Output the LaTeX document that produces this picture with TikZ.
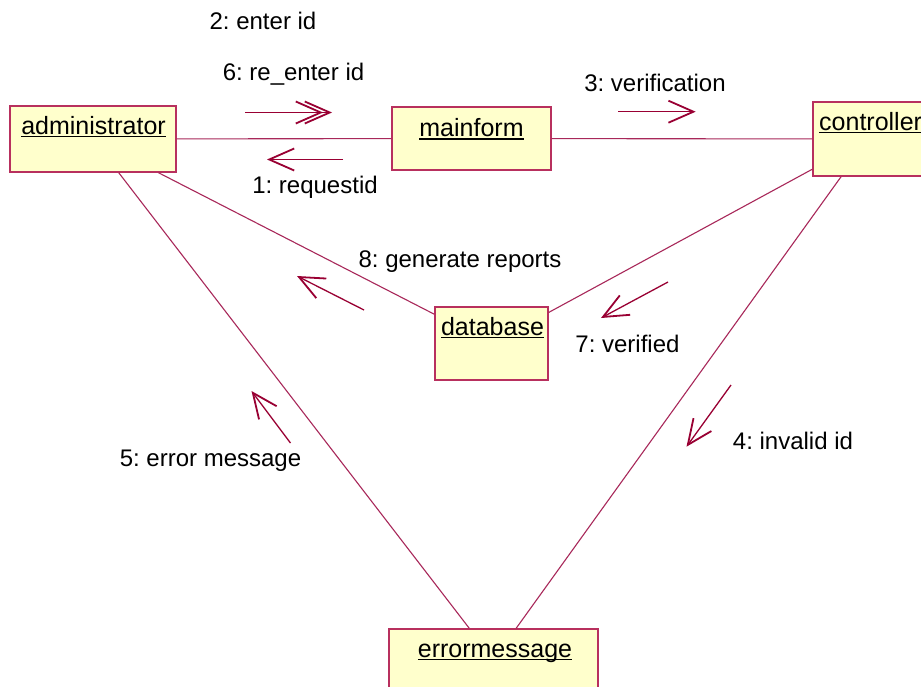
\documentclass[tikz,border=0pt]{standalone}
\usepackage{fontspec}
\setmainfont{Liberation Sans}
\usetikzlibrary{arrows.meta,calc}
\definecolor{boxfill}{HTML}{FFFFCC}
\definecolor{boxline}{HTML}{B8305E}
\definecolor{conn}{HTML}{A8285A}
\definecolor{msgcol}{HTML}{990033}
\newcommand\objul[1]{\setbox0\hbox{#1}\rlap{\rule[-3.4pt]{\wd0}{1.8pt}}\box0}
\frenchspacing
\begin{document}
\begin{tikzpicture}[x=1pt,y=-1pt,
 obj/.style={draw=boxline,fill=boxfill,line width=1.3pt,inner sep=0pt,rectangle},
 objlabel/.style={anchor=base,inner sep=0pt,font=\fontsize{25}{30}\selectfont},
 msglabel/.style={anchor=base,inner sep=0pt,font=\fontsize{24}{29}\selectfont},
 link/.style={draw=conn,line width=1.1pt},
 msg/.style={draw=msgcol,line width=1.3pt,-{Straight Barb[length=25pt,width=22pt,line width=1.8pt]}}]
\useasboundingbox (0,0) rectangle (921,686);
\clip (0,0) rectangle (921,686);
\fill[white] (0,0) rectangle (921,686);

% objects
\node[obj,minimum width=166pt,minimum height=66pt] (admin) at (93,139) {};
\node[obj,minimum width=159pt,minimum height=63pt] (mainform) at (471.5,138.5) {};
\node[obj,minimum width=110pt,minimum height=74pt] (controller) at (868,139) {};
\node[obj,minimum width=113pt,minimum height=73pt] (database) at (491.5,343.5) {};
\node[obj,minimum width=209pt,minimum height=62pt] (errmsg) at (493.5,660) {};

% links
\draw[link] (admin) -- (mainform);
\draw[link] (mainform) -- (controller);
\draw[link] (admin) -- (database);
\draw[link] (controller) -- (database);
\draw[link] (admin) -- (errmsg);
\draw[link] (controller) -- (errmsg);

% object names
\node[objlabel] (adminlbl) at (93.5,134) {\objul{administrator}};
\node[objlabel] (mainformlbl) at (471.5,136.5) {\objul{mainform}};
\node[objlabel,anchor=base west] (controllerlbl) at (819,130) {\objul{controller}};
\node[objlabel] (databaselbl) at (492.5,335) {\objul{database}};
\node[objlabel] (errmsglbl) at (495,657) {\objul{errormessage}};

% message labels
\node[msglabel] (m2) at (263,29) {2: enter id};
\node[msglabel] (m6) at (293.5,80) {6: re\_enter id};
\node[msglabel] (m1) at (315,193) {1: requestid};
\node[msglabel] (m3) at (655,91) {3: verification};
\node[msglabel] (m8) at (460,267) {8: generate reports};
\node[msglabel] (m7) at (627.5,352) {7: verified};
\node[msglabel] (m5) at (210.5,466) {5: error message};
\node[msglabel] (m4) at (793,449) {4: invalid id};

% message arrows
\coordinate (t6) at (245,112.5); \coordinate (h6) at (332,112.5); \coordinate (h6b) at (323,112.5);
\coordinate (t1) at (343,159.5); \coordinate (h1) at (267,159.5);
\coordinate (t3) at (618,111.7); \coordinate (h3) at (695.7,111.7);
\coordinate (t8) at (364,310); \coordinate (h8) at (297,276);
\coordinate (t7) at (668,282); \coordinate (h7) at (601,318);
\coordinate (t5) at (290.5,443); \coordinate (h5) at (251.5,391);
\coordinate (t4) at (731,385); \coordinate (h4) at (686.5,446.7);

\draw[msg] (t6) -- (h6);
\draw[msg] (t6) -- (h6b);
\draw[msg] (t1) -- (h1);
\draw[msg] (t3) -- (h3);
\draw[msg] (t8) -- (h8);
\draw[msg] (t7) -- (h7);
\draw[msg] (t5) -- (h5);
\draw[msg] (t4) -- (h4);
\end{tikzpicture}
\end{document}
